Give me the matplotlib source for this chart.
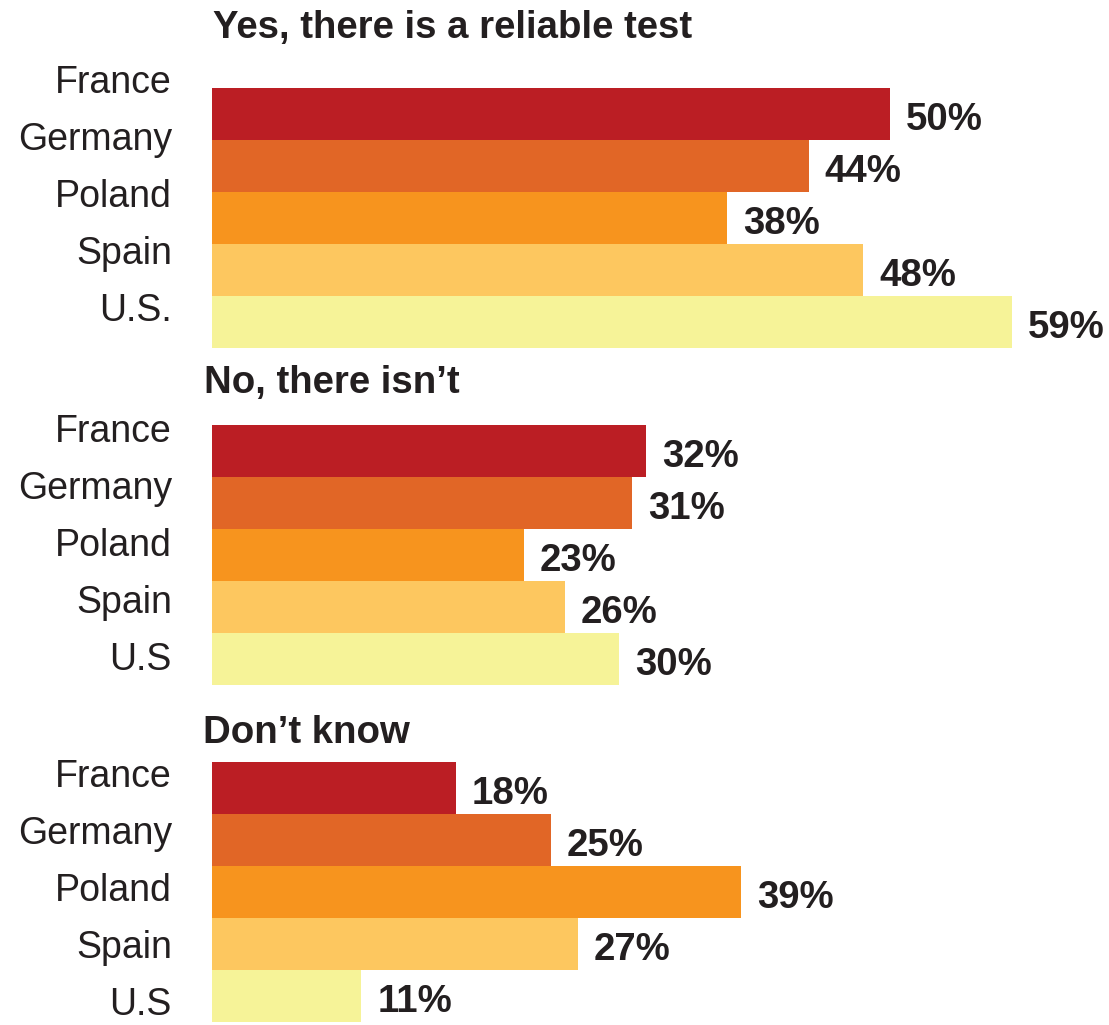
import matplotlib
matplotlib.use("Agg")
import matplotlib.pyplot as plt

plt.rcParams["font.family"] = ["Liberation Sans", "DejaVu Sans"]

# Survey answers by country (percent)
titles = ["Yes, there is a reliable test", "No, there isn\u2019t", "Don\u2019t know"]
country_labels = [
    ["France", "Germany", "Poland", "Spain", "U.S."],
    ["France", "Germany", "Poland", "Spain", "U.S"],
    ["France", "Germany", "Poland", "Spain", "U.S"],
]
yes_values = [50, 44, 38, 48, 59]
no_values = [32, 31, 23, 26, 30]
dont_know_values = [18, 25, 39, 27, 11]
panel_values = [yes_values, no_values, dont_know_values]

bar_colors = ["#BB1E24", "#E16626", "#F7941E", "#FDC75F", "#F6F398"]
text_color = "#231F20"

W, H = 1109, 1025
DPI = 100
fig = plt.figure(figsize=(W / DPI, H / DPI), dpi=DPI)
fig.patch.set_facecolor("white")

# Layout in pixels
x0 = 212           # left edge of bars
px_per_pct = 13.56
xmax = 60
bar_h = 52
panel_tops = [88, 425, 762]
title_x = [213, 204, 203]
title_gap = [50, 32, 19]        # bar top minus title baseline
label_first_off = [5, 17, 25]   # first label baseline below bar top
label_step = 57
label_right = 172
fs = 27
fs_bold = 27.6

for p in range(3):
    top = panel_tops[p]
    n = len(panel_values[p])
    height_px = n * bar_h
    ax = fig.add_axes([x0 / W, 1 - (top + height_px) / H,
                       xmax * px_per_pct / W, height_px / H])
    ypos = list(range(n))
    ax.barh(ypos, panel_values[p], height=1.0, color=bar_colors,
            edgecolor="none")
    ax.set_xlim(0, xmax)
    ax.set_ylim(n - 0.5, -0.5)
    ax.axis("off")

    # value labels
    for i, v in enumerate(panel_values[p]):
        ax.annotate(f"{v}%", xy=(v, i + 16 / bar_h), xytext=(16 * 72 / DPI, 0),
                    textcoords="offset points", ha="left", va="baseline",
                    fontsize=fs_bold, fontweight="bold", color=text_color,
                    annotation_clip=False)

    # country labels
    for i, name in enumerate(country_labels[p]):
        yb = -0.5 + (label_first_off[p] + i * label_step) / bar_h
        ax.annotate(name, xy=(0, yb), xytext=(-(x0 - label_right) * 72 / DPI, 0),
                    textcoords="offset points", ha="right", va="baseline",
                    fontsize=fs, color=text_color, annotation_clip=False)

    # panel title
    fig.text(title_x[p] / W, 1 - (top - title_gap[p]) / H, titles[p],
             ha="left", va="baseline", fontsize=fs_bold, fontweight="bold",
             color=text_color)

fig.savefig("out.png", dpi=DPI, facecolor="white")
